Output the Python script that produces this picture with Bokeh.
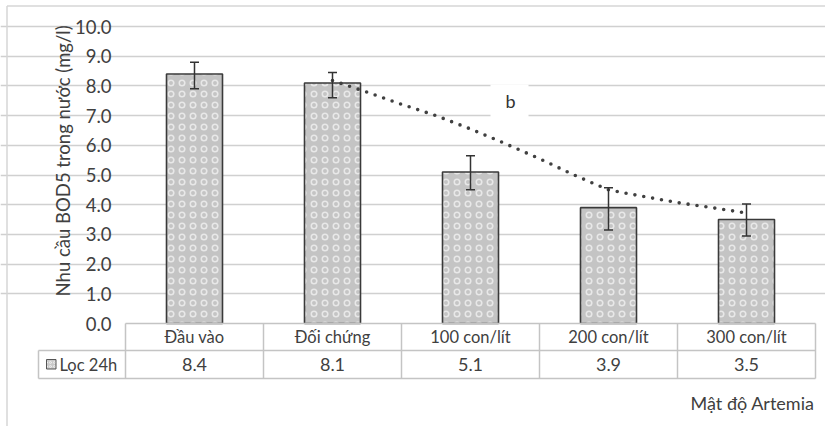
import math
from bokeh.plotting import figure
from bokeh.models import Range1d, FixedTicker, ColumnDataSource, Whisker, TeeHead, Grid
from bokeh.embed import file_html
from bokeh.resources import INLINE
from bokeh.core.properties import value

# ---------------- data ----------------
categories = ["Đầu vào", "Đối chứng", "100 con/lít", "200 con/lít", "300 con/lít"]
bod5 = [8.4, 8.1, 5.1, 3.9, 3.5]
bod5_labels = ["8.4", "8.1", "5.1", "3.9", "3.5"]
err_upper = [8.8, 8.45, 5.65, 4.57, 4.02]
err_lower = [7.9, 7.6, 4.5, 3.15, 2.95]
trend_pos = [1, 1.25, 1.5, 1.75, 2, 2.25, 2.5, 2.75, 3, 3.25, 3.5, 3.75, 4]
trend_val = [8.18, 7.79, 7.38, 7.0, 6.55, 6.06, 5.55, 5.0, 4.5, 4.28, 4.07, 3.9, 3.72]
y_ticks = [0, 1, 2, 3, 4, 5, 6, 7, 8, 9, 10]
y_tick_labels = ["0.0", "1.0", "2.0", "3.0", "4.0", "5.0", "6.0", "7.0", "8.0", "9.0", "10.0"]
series_name = "Lọc 24h"
y_title = "Nhu cầu BOD5  trong nước (mg/l)"
x_title = "Mật độ Artemia"
note_text = "b"

# ---------------- layout (pixels) ----------------
W, H = 825, 426
LEFT = 125.0      # px of category 0 left edge
CAT_W = 138.0     # px per category
Y0 = 323.0        # px of value 0
UNIT = 29.7       # px per unit

def dx(px):
    return (px - LEFT) / CAT_W

def dy(py):
    return (Y0 - py) / UNIT

FONT = value("Lato")
TXT = "#404040"
GRID = "#d0d0d0"
TABLE = "#c4c4c4"

p = figure(width=W, height=H, output_backend="svg", toolbar_location=None,
           x_range=Range1d(dx(0), dx(W)), y_range=Range1d(dy(H), dy(0)),
           x_axis_location=None, y_axis_location=None, min_border=0,
           outline_line_color=None, background_fill_color="white",
           border_fill_color="white")
p.xgrid.visible = False
p.ygrid.visible = False

grid = Grid(dimension=1, ticker=FixedTicker(ticks=y_ticks[1:]), bounds=(0, len(categories)),
            grid_line_color=GRID, grid_line_width=1.6)
p.add_layout(grid)

# outer chart border (left + top)
p.segment(x0=[dx(6.5), dx(6.5)], y0=[dy(5.5), dy(5.5)], x1=[dx(6.5), dx(W + 5)], y1=[dy(H + 5), dy(5.5)],
          line_color="#d6d6d6", line_width=1.5)

xs = [i + 0.5 for i in range(len(categories))]

# bars
src = ColumnDataSource(dict(x=xs, top=bod5, upper=err_upper, lower=err_lower))
p.vbar(x="x", top="top", bottom=0, width=56 / CAT_W, source=src,
       fill_color="#c4c4c4", line_color="#3a3a3a", line_width=1.6,
       hatch_pattern="ring", hatch_color="#ececec", hatch_scale=11, hatch_weight=1.5, hatch_alpha=0.9)

# error bars
w = Whisker(base="x", upper="upper", lower="lower", dimension="height", source=src,
            line_color="#333333", line_width=1.5, level="overlay",
            upper_head=TeeHead(size=9, line_color="#333333", line_width=1.5),
            lower_head=TeeHead(size=9, line_color="#333333", line_width=1.5))
p.add_layout(w)

# dotted trend line
p.line(x=[t + 0.5 for t in trend_pos], y=trend_val, line_color="#404040", line_width=3.6,
       line_dash="0 9", line_cap="round")

# "b" label with white box
p.quad(left=dx(490), right=dx(528), top=dy(84), bottom=dy(117), fill_color="white", line_color=None)
p.text(x=[dx(510)], y=[dy(100)], text=[note_text], text_font=FONT, text_font_size="18px",
       text_color="#333333", text_align="center", text_baseline="middle")

# y tick labels
p.text(x=[dx(111)] * len(y_ticks), y=y_ticks, text=y_tick_labels, text_font=FONT,
       text_font_size="18.5px", text_color=TXT, text_align="right", text_baseline="middle")

# y title
p.text(x=[dx(62)], y=[dy(158)], text=[y_title], angle=math.pi / 2, text_font=FONT,
       text_font_size="18.5px", text_color=TXT, text_align="center", text_baseline="middle")

# data table lines
n = len(categories)
r1, r2, r3 = 0.0, dy(350), dy(378)
p.segment(x0=[0, dx(38), dx(38)], y0=[r1, r2, r3], x1=[n, n, n], y1=[r1, r2, r3],
          line_color=TABLE, line_width=1.5)
p.segment(x0=list(range(n + 1)) + [dx(38)], y0=[r1] * (n + 1) + [r2],
          x1=list(range(n + 1)) + [dx(38)], y1=[r3] * (n + 1) + [r3],
          line_color=TABLE, line_width=1.5)

# table texts
p.text(x=xs, y=[dy(336.5)] * n, text=categories, text_font=FONT, text_font_size="16.5px",
       text_color=TXT, text_align="center", text_baseline="middle")
p.text(x=xs, y=[dy(364)] * n, text=bod5_labels, text_font=FONT, text_font_size="18px",
       text_color=TXT, text_align="center", text_baseline="middle")

# legend key
p.quad(left=dx(46), right=dx(55.5), top=dy(359), bottom=dy(368.5), fill_color="#c9c9c9",
       line_color="#555555", line_width=1, hatch_pattern="ring", hatch_color="#eeeeee", hatch_scale=4)
p.text(x=[dx(59)], y=[dy(364)], text=[series_name], text_font=FONT, text_font_size="16.5px",
       text_color=TXT, text_align="left", text_baseline="middle")

# x title
p.text(x=[dx(814)], y=[dy(402)], text=[x_title], text_font=FONT, text_font_size="18px",
       text_color=TXT, text_align="right", text_baseline="middle")

open("out.html", "w").write(file_html(p, INLINE))
